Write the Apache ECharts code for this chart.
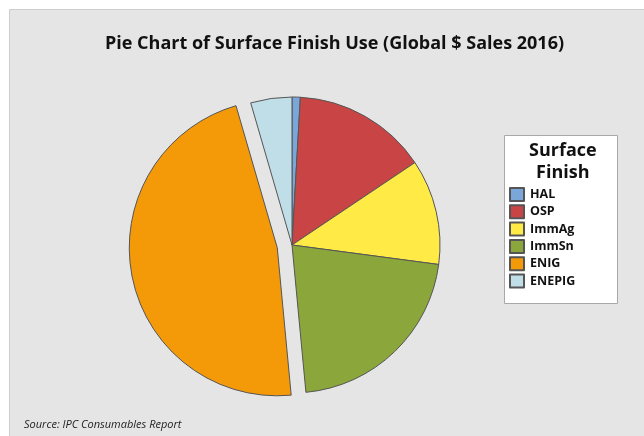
<!DOCTYPE html>
<html><head><meta charset="utf-8">
<script src="https://cdn.jsdelivr.net/npm/echarts@6/dist/echarts.min.js"></script>
<style>html,body{margin:0;padding:0;background:#fff}#c{width:644px;height:436px}</style>
</head><body><div id="c"></div>
<script>
const categories = ['HAL', 'OSP', 'ImmAg', 'ImmSn', 'ENIG', 'ENEPIG'];
const values = [0.9, 14.7, 11.5, 21.4, 47.0, 4.5];
const colors = ['#7BA6DA', '#C94545', '#FFEA46', '#8BA63B', '#F49A08', '#BFDEE8'];
const exploded = ['ENIG'];
const FONT = '"Open Sans", "Noto Sans", sans-serif';

const chart = echarts.init(document.getElementById('c'));
chart.setOption({
  backgroundColor: '#ffffff',
  animation: false,
  graphic: [
    { type: 'rect', z: -10, shape: { x: 9.5, y: 9.5, width: 640, height: 432 },
      style: { fill: '#e5e5e5', stroke: '#cdcdcd', lineWidth: 1 } },
    { type: 'rect', z: 0, shape: { x: 504.5, y: 135.5, width: 113, height: 168 },
      style: { fill: '#ffffff', stroke: '#a8a8a8', lineWidth: 1 } },
    { type: 'text', z: 1, left: 529, top: 140,
      style: { text: 'Surface\nFinish', fill: '#111', font: 'bold 18px ' + FONT, textAlign: 'center', lineHeight: 22 } },
    { type: 'text', z: 1, left: 24, top: 419,
      style: { text: 'Source: IPC Consumables Report', fill: '#222', font: 'italic 11px ' + FONT } }
  ],
  title: {
    text: 'Pie Chart of Surface Finish Use (Global $ Sales 2016)',
    left: 100, top: 30,
    textStyle: { fontFamily: FONT, fontSize: 18, fontWeight: 'bold', color: '#111' }
  },
  legend: {
    orient: 'vertical', left: 504, top: 182,
    itemWidth: 14, itemHeight: 13, itemGap: 2.3,
    icon: 'rect', selectedMode: false,
    data: categories,
    textStyle: { fontFamily: FONT, fontSize: 12.5, fontWeight: 'bold', color: '#111', padding: [0, 0, 0, 1], lineHeight: 15 }
  },
  series: [{
    type: 'pie',
    center: [292, 245],
    radius: 148,
    startAngle: 90,
    clockwise: true,
    label: { show: false },
    labelLine: { show: false },
    selectedMode: 'multiple',
    selectedOffset: 15,
    emphasis: { disabled: true },
    itemStyle: { borderColor: '#555', borderWidth: 1 },
    data: categories.map((c, i) => ({
      name: c, value: values[i], selected: exploded.includes(c),
      itemStyle: { color: colors[i] }
    }))
  }]
});
</script></body></html>
